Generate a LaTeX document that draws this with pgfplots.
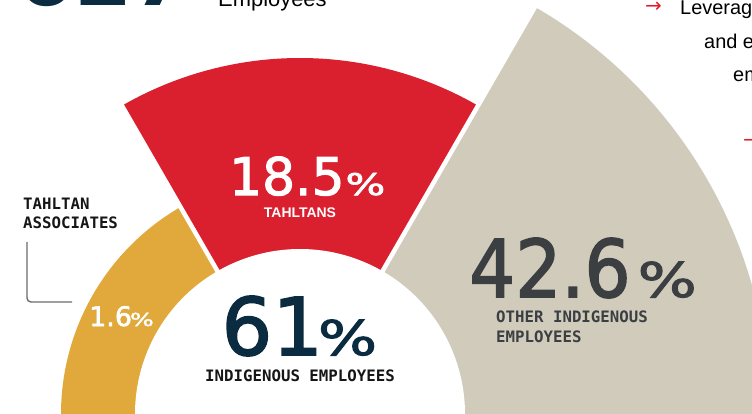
\documentclass[border=0pt]{standalone}
\usepackage{fontspec}
\setmainfont{DejaVu Sans}
\newfontfamily\numfont{DejaVu Sans}[FakeBold=2]
\newfontfamily\monofont{DejaVu Sans Mono}
\newfontfamily\arialfont{Liberation Sans}
\usepackage{graphicx}
\usepackage{pgfplots}
\pgfplotsset{compat=1.18}
\definecolor{tred}{HTML}{DA202E}
\definecolor{tgold}{HTML}{E1A93B}
\definecolor{tbeige}{HTML}{D0CBBB}
\definecolor{tnavy}{HTML}{0B2B40}
\definecolor{tdark}{HTML}{3B3F42}
\definecolor{tink}{HTML}{161616}
\definecolor{lgray}{HTML}{6B6B6B}
\newcommand\pct[2]{\fontsize{#1}{#1}\selectfont\scalebox{#2}[1]{\%}}
\begin{document}
\begin{tikzpicture}
\useasboundingbox (0,0) rectangle (752bp,414bp);
\clip (0,0) rectangle (752bp,414bp);
\begin{axis}[at={(0,0)}, anchor=south west, x=1bp, y=1bp,
  xmin=-300, xmax=452, ymin=0, ymax=414, hide axis, clip=true]
% sectors: angle range and outer radius (inner radius 165)
\addplot[draw=none, fill=tbeige, data cs=polar, domain=0:60, samples=61] {470} -- (axis cs:0,0) -- cycle;
\addplot[draw=none, fill=tred, data cs=polar, domain=60:120, samples=61] {356} -- (axis cs:0,0) -- cycle;
\addplot[draw=none, fill=tgold, data cs=polar, domain=120:180, samples=61] {239} -- (axis cs:0,0) -- cycle;
\addplot[white, line width=4.5bp, data cs=polar] coordinates {(60,0) (60,520)};
\addplot[white, line width=4.5bp, data cs=polar] coordinates {(120,0) (120,520)};
\addplot[draw=none, fill=white, data cs=polar, domain=0:180, samples=121] {165} -- cycle;

% labels
\node[anchor=base west, inner sep=0, text=white] at (axis cs:-71,219)
  {\numfont\fontsize{52}{52}\selectfont 18.5\kern1bp\pct{30}{1.4}};
\node[anchor=base, inner sep=0, text=white] at (axis cs:0,197)
  {\arialfont\bfseries\fontsize{14}{14}\selectfont TAHLTANS};
\node[anchor=base west, inner sep=0, text=tnavy] at (axis cs:-78.6,59)
  {\numfont\fontsize{80}{80}\selectfont 61\kern-5bp\pct{48}{1.3}};
\node[anchor=base, inner sep=0, text=tink] at (axis cs:0,33)
  {\monofont\bfseries\fontsize{15.8}{15.8}\selectfont INDIGENOUS EMPLOYEES};
\node[anchor=base west, inner sep=0, text=tdark] at (axis cs:169,117)
  {\numfont\fontsize{80}{80}\selectfont\scalebox{0.91}[1]{42.6}\kern7bp\pct{48}{1.3}};
\node[anchor=base west, inner sep=0, text=tdark] at (axis cs:196,92)
  {\monofont\bfseries\fontsize{15.8}{15.8}\selectfont OTHER INDIGENOUS};
\node[anchor=base west, inner sep=0, text=tdark] at (axis cs:196,72)
  {\monofont\bfseries\fontsize{15.8}{15.8}\selectfont EMPLOYEES};
\node[anchor=base west, inner sep=0, text=white] at (axis cs:-211,88)
  {\numfont\fontsize{27}{27}\selectfont 1.6\kern-2bp\pct{18}{1.4}};
\node[anchor=base west, inner sep=0, text=tink] at (axis cs:-277,205)
  {\monofont\bfseries\fontsize{15.8}{15.8}\selectfont TAHLTAN};
\node[anchor=base west, inner sep=0, text=tink] at (axis cs:-277,186)
  {\monofont\bfseries\fontsize{15.8}{15.8}\selectfont ASSOCIATES};
\draw[lgray, line width=1.4bp, rounded corners=4bp]
  (axis cs:-273,172) -- (axis cs:-273,112) -- (axis cs:-228,112);

% text cut off at the edges of the crop
\node[anchor=base west, inner sep=0, text=tnavy] at (axis cs:-284,408)
  {\bfseries\fontsize{84}{84}\selectfont 627};
\node[anchor=base west, inner sep=0, text=black] at (axis cs:-82,407)
  {\arialfont\fontsize{22}{22}\selectfont Employees};
\node[anchor=base west, inner sep=0, text=tred] at (axis cs:345,401)
  {\fontsize{20}{20}\selectfont →};
\node[anchor=base west, inner sep=0, text=black] at (axis cs:380,399)
  {\arialfont\fontsize{20}{20}\selectfont Leveraging};
\node[anchor=base west, inner sep=0, text=black] at (axis cs:404,366)
  {\arialfont\fontsize{20}{20}\selectfont and engage};
\node[anchor=base west, inner sep=0, text=black] at (axis cs:433,333)
  {\arialfont\fontsize{20}{20}\selectfont employment};
\node[anchor=base west, inner sep=0, text=tred] at (axis cs:443,268)
  {\fontsize{20}{20}\selectfont →};
\end{axis}
\end{tikzpicture}
\end{document}
